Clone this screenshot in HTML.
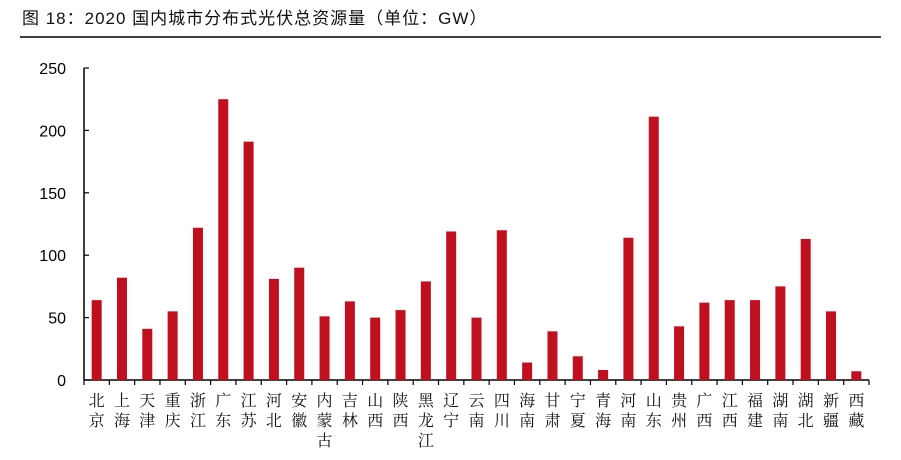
<!DOCTYPE html>
<html><head><meta charset="utf-8"><style>
body{margin:0;background:#fff;width:901px;height:455px;overflow:hidden}
</style></head><body>
<svg width="901" height="455" xmlns="http://www.w3.org/2000/svg">
<text x="22" y="24" font-family="Liberation Sans, Noto Sans CJK SC, sans-serif" font-size="17" letter-spacing="1" fill="#111">图 18：2020 国内城市分布式光伏总资源量（单位：GW）</text>
<line x1="20" y1="37" x2="881" y2="37" stroke="#000" stroke-width="1.5"/>
<g id="g"></g>
</svg>
<script>
const categories=["北京","上海","天津","重庆","浙江","广东","江苏","河北","安徽","内蒙古","吉林","山西","陕西","黑龙江","辽宁","云南","四川","海南","甘肃","宁夏","青海","河南","山东","贵州","广西","江西","福建","湖南","湖北","新疆","西藏"];
const values=[64,82,41,55,122,225,191,81,90,51,63,50,56,79,119,50,120,14,39,19,8,114,211,43,62,64,64,75,113,55,7];
const yTicks=[0,50,100,150,200,250];
const ns="http://www.w3.org/2000/svg",g=document.getElementById('g');
const x0=84,x1=869,y0=380,yTop=68,yMax=250;
const step=(x1-x0)/categories.length;
const ys=v=>y0-(v/yMax)*(y0-yTop);
function mk(t,a){const e=document.createElementNS(ns,t);for(const k in a)e.setAttribute(k,a[k]);g.appendChild(e);return e;}
let ax=mk('line',{x1:x0,y1:yTop,x2:x0,y2:y0,stroke:'#000','stroke-width':1.5});

let bx=mk('line',{x1:x0,y1:y0,x2:x1,y2:y0,stroke:'#000','stroke-width':1.5});

yTicks.forEach(v=>{const y=ys(v);
 let t=mk('line',{x1:x0,y1:y,x2:x0+5,y2:y,stroke:'#000','stroke-width':1.2});
 
 let l=mk('text',{x:x0-18,y:y+6,'text-anchor':'end','font-family':'Liberation Sans, sans-serif','font-size':16,fill:'#000'});
 l.textContent=v;});
for(let i=0;i<=categories.length;i++){const x=x0+i*step;
 let t=mk('line',{x1:x,y1:y0,x2:x,y2:y0+5,stroke:'#000','stroke-width':1.2});
 }
categories.forEach((c,i)=>{const cx=x0+(i+0.5)*step,y=ys(values[i]);
 let r=mk('rect',{x:cx-5,y:y,width:10,height:y0-y,fill:'#C00F1E'});
 
 [...c].forEach((ch,j)=>{let t=mk('text',{x:cx,y:406+j*20,'text-anchor':'middle','font-family':'Noto Serif CJK SC, serif','font-size':16,fill:'#111'});
  t.textContent=ch;});});
</script>
</body></html>
